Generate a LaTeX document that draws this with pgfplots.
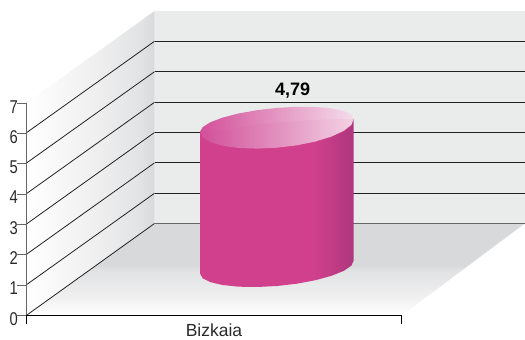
\documentclass[border=0pt]{standalone}
\usepackage{pgfplots}
\usepackage{graphicx}
\usepackage{fontspec}
\setmainfont{Liberation Sans}
\pgfplotsset{compat=1.18}
\definecolor{backw}{HTML}{EAECEB}
\definecolor{wallr}{HTML}{D8D9DB}
\definecolor{wallm}{HTML}{E2E3E4}
\definecolor{walll}{HTML}{EEEEEF}
\definecolor{floorm}{HTML}{E0E1E2}
\definecolor{floorl}{HTML}{F0F0F1}
\definecolor{pinkb}{HTML}{D0408C}
\definecolor{pinkd}{HTML}{AE377E}
\definecolor{topl}{HTML}{D2509A}
\definecolor{topr}{HTML}{F5DCEA}
\definecolor{gridc}{HTML}{222222}
\definecolor{spine}{HTML}{666666}
\definecolor{txt}{HTML}{2A2A2A}
\pgfdeclarehorizontalshading{wallsh}{100bp}{color(0bp)=(white); color(25bp)=(white); color(53.7bp)=(walll); color(69.3bp)=(wallm); color(75bp)=(wallr); color(100bp)=(wallr)}
\pgfdeclareverticalshading{floorsh}{100bp}{color(0bp)=(white); color(25bp)=(white); color(35bp)=(floorl); color(50bp)=(floorm); color(52bp)=(wallr); color(100bp)=(wallr)}
\pgfdeclarehorizontalshading{cylsh}{100bp}{color(0bp)=(pinkb); color(62bp)=(pinkb); color(75bp)=(pinkd); color(100bp)=(pinkd)}
\pgfdeclarehorizontalshading{topsh}{100bp}{color(0bp)=(topl); color(25bp)=(topl); color(75bp)=(topr); color(100bp)=(topr)}
\pgfplotsset{table/px/.style={header=false,x expr=\thisrowno{0}-26.5,y expr=(315.3-\thisrowno{1})/30.3}}
\newcommand{\dg}[1]{\scalebox{0.8}[1]{#1}}
\begin{document}
\begin{tikzpicture}
\useasboundingbox (0,0) rectangle (525pt,340pt);
\begin{axis}[
  at={(26.5pt,24.7pt)}, anchor=south west,
  scale only axis, width=374.5pt, height=212.1pt,
  xmin=0, xmax=374.5, ymin=0, ymax=7,
  clip=false, axis on top,
  axis x line*=bottom, axis y line*=left,
  axis line style={-},
  x axis line style={black,line width=0.8pt},
  y axis line style={spine,line width=1pt},
  xtick={0,374.5}, xticklabels={,},
  extra x ticks={187.5}, extra x tick labels={Bizkaia},
  extra x tick style={major tick length=0pt, tick label style={yshift=-8.5pt}},
  x tick style={black,line width=0.8pt},
  tick align=outside, xtick pos=bottom, ytick pos=left,
  x tick label style={font=\fontsize{17.5}{18}\selectfont,inner sep=0pt,anchor=north,text=txt},
  major tick length=9pt,
  ytick={0,1,2,3,4,5,6,7},
  yticklabels={\dg{0},\dg{1},\dg{2},\dg{3},\dg{4},\dg{5},\dg{6},\dg{7}},
  y tick style={spine,line width=0.8pt},
  y tick label style={font=\fontsize{18.5}{18}\selectfont,inner sep=0pt,yshift=-3.5pt,xshift=0.5pt,text=txt},
]
% back wall
\addplot[draw=none,fill=backw,forget plot] table[px]{
154.5 11
525 11
525 223.3
154.5 223.3
} --cycle;
% left wall
\addplot[draw=none,shading=wallsh,forget plot] table[px]{
26.5 103
154.5 11
154.5 223.3
26.5 315.3
} --cycle;
% floor
\addplot[draw=none,shading=floorsh,forget plot] table[px]{
26.5 315.3
154.5 223.3
525 223.3
402 315.3
} --cycle;
% back grid lines
\addplot[gridc,line width=1pt,forget plot] table[px]{
154.5 41.3
525 41.3
};
\addplot[gridc,line width=1pt,forget plot] table[px]{
154.5 71.7
525 71.7
};
\addplot[gridc,line width=1pt,forget plot] table[px]{
154.5 102.3
525 102.3
};
\addplot[gridc,line width=1pt,forget plot] table[px]{
154.5 132.5
525 132.5
};
\addplot[gridc,line width=1pt,forget plot] table[px]{
154.5 162.9
525 162.9
};
\addplot[gridc,line width=1pt,forget plot] table[px]{
154.5 193.3
525 193.3
};
\addplot[spine,line width=1pt,forget plot] table[px]{
154.5 223.5
525 223.5
};
% diagonals on the left wall
\addplot[gridc,line width=0.8pt,forget plot] table[px]{
26.5 132.7
154.5 41.3
};
\addplot[gridc,line width=0.8pt,forget plot] table[px]{
26.5 163
154.5 71.7
};
\addplot[gridc,line width=0.8pt,forget plot] table[px]{
26.5 193.6
154.5 102.3
};
\addplot[gridc,line width=0.8pt,forget plot] table[px]{
26.5 224
154.5 132.5
};
\addplot[gridc,line width=0.8pt,forget plot] table[px]{
26.5 254.3
154.5 162.9
};
\addplot[gridc,line width=0.8pt,forget plot] table[px]{
26.5 284.7
154.5 193.3
};
\addplot[gridc,line width=0.8pt,forget plot] table[px]{
26.5 315.3
154.5 223.5
};
% cylinder body
\addplot[draw=none,shading=cylsh,forget plot] table[px]{
353.7 118.9
353.7 260.5
351.4 265.6
343.7 270.9
331.4 275.8
315.5 280.2
296.9 283.7
277 286
257.1 287
238.5 286.7
222.6 285
210.3 282.1
202.6 278.2
200 273.5
200 131.9
} --cycle;
% cylinder top
\addplot[draw=none,shading=topsh,forget plot] table[px]{
353.7 118.9
351.4 124.9
343.7 130.9
331.4 136.6
315.5 141.5
296.9 145.3
277 147.7
257.1 148.6
238.5 148
222.6 145.8
210.3 142.2
202.6 137.5
200 131.9
202.6 127.2
210.3 122.3
222.6 117.6
238.5 113.5
257.1 110.2
277 107.9
296.9 106.8
315.5 107
331.4 108.4
343.7 111
351.4 114.6
} --cycle;
% darker lip at the front of the top
\addplot[draw=none,fill=pinkb,fill opacity=0.06,forget plot] table[px]{
353.7 118.9
351.4 124.9
343.7 130.9
331.4 136.6
315.5 141.5
296.9 145.3
277 147.7
257.1 148.6
238.5 148
222.6 145.8
210.3 142.2
202.6 137.5
200 131.9
225 130
262 124
310 120
} --cycle;
\node[font=\bfseries\fontsize{18}{18}\selectfont,inner sep=0pt] at (axis cs:266.2,7.4) {4,79};
\end{axis}
\end{tikzpicture}
\end{document}
